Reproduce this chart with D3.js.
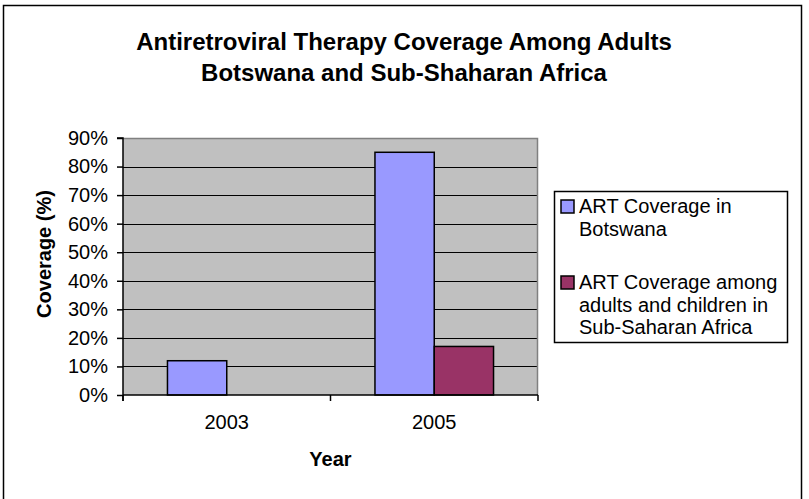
<!DOCTYPE html>
<html>
<head>
<meta charset="utf-8">
<script src="https://cdn.jsdelivr.net/npm/d3@7"></script>
<style>
  html, body { margin: 0; padding: 0; background: #fff; }
  svg text { font-family: "Liberation Sans", Arial, sans-serif; fill: #000; }
</style>
</head>
<body>
<svg id="chart" width="809" height="499"></svg>
<script>
const titleLines = ["Antiretroviral Therapy Coverage Among Adults", "Botswana and Sub-Shaharan Africa"];
const categories = ["2003", "2005"];
const seriesNames = ["ART Coverage in Botswana", "ART Coverage among adults and children in Sub-Saharan Africa"];
const legendLines = [["ART Coverage in", "Botswana"], ["ART Coverage among", "adults and children in", "Sub-Saharan Africa"]];
const botswana = [0.12, 0.85];
const subSaharan = [null, 0.17];
const yTicks = [0, 0.1, 0.2, 0.3, 0.4, 0.5, 0.6, 0.7, 0.8, 0.9];
const colors = ["#9999FF", "#993366"];
const xTitle = "Year";
const yTitle = "Coverage (%)";

const FONT = "'Liberation Sans', Arial, sans-serif";
const svg = d3.select("#chart");
const plot = {left: 123, right: 538, top: 138, bottom: 395};

// outer chart border
svg.append("rect").attr("x", 3.5).attr("y", 5.5).attr("width", 798).attr("height", 520)
  .attr("fill", "#fff").attr("stroke", "#000").attr("stroke-width", 1.5);

// title
svg.append("g").selectAll("text").data(titleLines).join("text")
  .attr("x", 404).attr("y", (d, i) => 50 + i * 31)
  .attr("text-anchor", "middle").attr("font-weight", "bold").attr("font-size", 24)
  .text(d => d);

const y = d3.scaleLinear().domain([0, 0.9]).range([plot.bottom, plot.top]);
const x0 = d3.scaleBand().domain(categories).range([plot.left, plot.right]).padding(0);
const x1 = d3.scaleBand().domain([0, 1]).range([0, x0.bandwidth()]).paddingInner(0).paddingOuter(0.75);

// plot background
svg.append("rect").attr("x", plot.left).attr("y", plot.top)
  .attr("width", plot.right - plot.left).attr("height", plot.bottom - plot.top)
  .attr("fill", "#C0C0C0");

// gridlines
svg.append("g").selectAll("line").data(yTicks.filter(t => t > 0 && t < 0.9)).join("line")
  .attr("x1", plot.left).attr("x2", plot.right)
  .attr("y1", d => Math.round(y(d)) + 0.5).attr("y2", d => Math.round(y(d)) + 0.5)
  .attr("stroke", "#000").attr("stroke-width", 1);

// top/right border (gray)
svg.append("path")
  .attr("d", `M${plot.left},${plot.top + 0.5}H${plot.right - 0.5}V${plot.bottom}`)
  .attr("fill", "none").attr("stroke", "#808080").attr("stroke-width", 1.5);

// bars
const series = [botswana, subSaharan];
const barG = svg.append("g");
series.forEach((vals, si) => {
  barG.append("g").selectAll("rect")
    .data(categories.map((c, i) => ({c, v: vals[i]})).filter(d => d.v != null))
    .join("rect")
    .attr("x", d => x0(d.c) + x1(si))
    .attr("y", d => y(d.v))
    .attr("width", x1.bandwidth())
    .attr("height", d => y(0) - y(d.v))
    .attr("fill", colors[si]).attr("stroke", "#000").attr("stroke-width", 1.5);
});

// y axis
const yAxis = d3.axisLeft(y).tickValues(yTicks).tickFormat(d3.format(".0%")).tickSize(6).tickPadding(9);
const yg = svg.append("g").attr("transform", `translate(${plot.left},0)`).call(yAxis);
yg.select(".domain").attr("stroke", "#000").attr("stroke-width", 1.5).attr("d", `M-6,${plot.top}H0V${plot.bottom + 6}`);
yg.selectAll(".tick line").attr("stroke", "#000").attr("stroke-width", 1.5);
yg.selectAll(".tick text").attr("font-size", 20).attr("font-family", FONT).attr("fill", "#000");

// x axis
const xAxis = d3.axisBottom(x0).tickSize(0).tickPadding(20);
const xg = svg.append("g").attr("transform", `translate(0,${plot.bottom})`).call(xAxis);
xg.select(".domain").attr("stroke", "#000").attr("stroke-width", 1.5).attr("d", `M${plot.left},0H${plot.right}`);
xg.selectAll(".tick text").attr("font-size", 20).attr("font-family", FONT).attr("fill", "#000");
// category boundary ticks
const bounds = [plot.left, plot.left + x0.step(), plot.right];
xg.append("g").selectAll("line").data(bounds).join("line")
  .attr("x1", d => d).attr("x2", d => d).attr("y1", 0).attr("y2", 6)
  .attr("stroke", "#000").attr("stroke-width", 1.5);

// axis titles
svg.append("text").attr("x", (plot.left + plot.right) / 2).attr("y", 466)
  .attr("text-anchor", "middle").attr("font-weight", "bold").attr("font-size", 20).text(xTitle);
svg.append("text").attr("transform", `translate(51,254) rotate(-90)`)
  .attr("text-anchor", "middle").attr("font-weight", "bold").attr("font-size", 20).text(yTitle);

// legend
const legend = svg.append("g");
legend.append("rect").attr("x", 554.5).attr("y", 191.5).attr("width", 233).attr("height", 151)
  .attr("fill", "#fff").attr("stroke", "#000").attr("stroke-width", 1.5);
const itemTops = [213, 289];
legendLines.forEach((lines, i) => {
  legend.append("rect").attr("x", 561).attr("y", itemTops[i] - 13).attr("width", 13).attr("height", 13)
    .attr("fill", colors[i]).attr("stroke", "#000").attr("stroke-width", 1.5);
  legend.append("g").selectAll("text").data(lines).join("text")
    .attr("x", 579).attr("y", (d, j) => itemTops[i] + j * 22.5)
    .attr("font-size", 20).text(d => d);
});
</script>
</body>
</html>
